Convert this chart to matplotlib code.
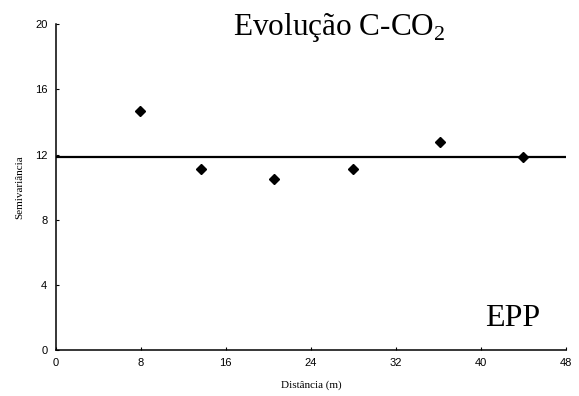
import matplotlib
matplotlib.use('Agg')
import matplotlib.pyplot as plt
import numpy as np

plt.rcParams['font.family'] = 'sans-serif'
plt.rcParams['font.sans-serif'] = ['Liberation Sans', 'DejaVu Sans']
plt.rcParams['mathtext.fontset'] = 'custom'
plt.rcParams['mathtext.rm'] = 'Liberation Serif'

# semivariogram points
distancia = [7.96, 13.68, 20.52, 27.92, 36.17, 43.92]
semivariancia = [14.70, 11.13, 10.48, 11.11, 12.75, 11.87]

# pure nugget model (EPP)
patamar = 11.83

x_ticks = [0, 8, 16, 24, 32, 40, 48]
y_ticks = [0, 4, 8, 12, 16, 20]

fig = plt.figure(figsize=(5.79, 3.96), dpi=100)
ax = fig.add_axes([0.0962, 0.1162, 0.8813, 0.8225])

ax.plot([0, 48], [patamar, patamar], color='black', lw=1.6)
ax.plot(distancia, semivariancia, 'D', color='black', ms=5, clip_on=False)

ax.set_xlim(0, 48)
ax.set_ylim(0, 20)
ax.set_xticks(x_ticks)
ax.set_yticks(y_ticks)

for s in ['top', 'right']:
    ax.spines[s].set_visible(False)
for s in ['left', 'bottom']:
    ax.spines[s].set_linewidth(1.1)

ax.tick_params(direction='in', length=2, width=0.8, pad=6, labelsize=8)

ax.set_xlabel('Distância (m)', family='Liberation Serif', fontsize=8, labelpad=9)
ax.set_ylabel('Semivariância', family='Liberation Serif', fontsize=8, labelpad=8)

ax.text(0.555, 0.967, r'Evolução C-CO$_{\mathrm{2}}$', transform=ax.transAxes,
        ha='center', va='baseline', family='Liberation Serif', fontsize=22.5)
ax.text(0.895, 0.074, 'EPP', transform=ax.transAxes,
        ha='center', va='baseline', family='Liberation Serif', fontsize=23)

fig.savefig('out.png', dpi=100)
